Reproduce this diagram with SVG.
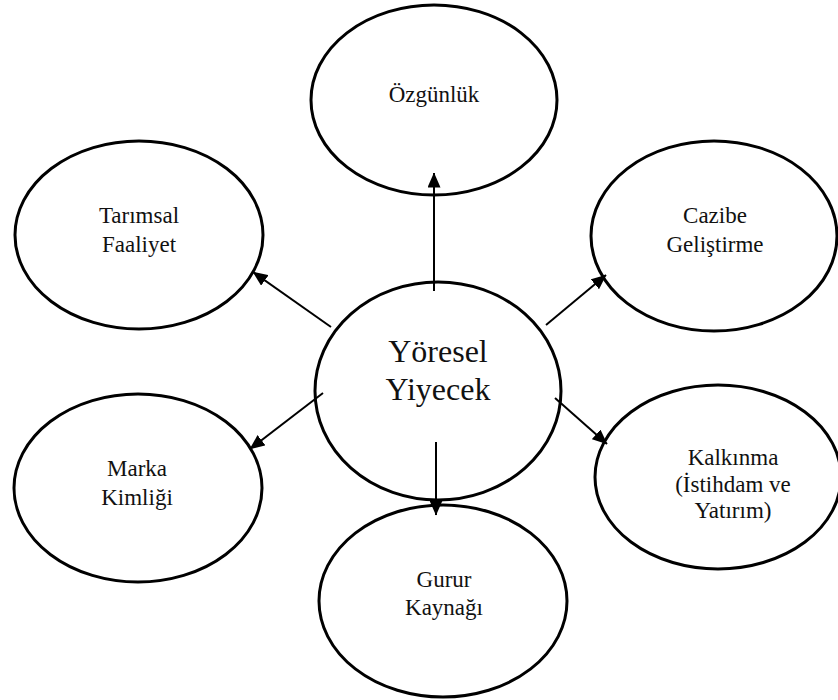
<svg xmlns="http://www.w3.org/2000/svg" width="838" height="700" viewBox="0 0 838 700">
  <style>
    .node ellipse { fill: #ffffff; stroke: #000000; stroke-width: 3; }
    .node text { font-family: 'Liberation Serif', 'Times New Roman', 'DejaVu Serif', serif; font-size: 23px; fill: #111111; text-anchor: middle; }
    .node.hub text { font-size: 32px; }
    .links line { stroke: #000000; stroke-width: 2; marker-end: url(#head); }
  </style>
  <defs>
    <marker id="head" viewBox="0 0 15 13" refX="14.5" refY="6.5" markerWidth="7.5" markerHeight="6.5" orient="auto" markerUnits="strokeWidth">
      <path d="M0,0 L15,6.5 L0,13 Z" fill="#000000"/>
    </marker>
  </defs>

  <g id="ozgunluk" class="node">
    <ellipse cx="434" cy="100" rx="123" ry="95"/>
    <text x="434" y="102">Özgünlük</text>
  </g>

  <g id="tarimsal-faaliyet" class="node">
    <ellipse cx="139" cy="235" rx="124" ry="94"/>
    <text x="139" y="223">Tarımsal</text>
    <text x="139" y="252">Faaliyet</text>
  </g>

  <g id="cazibe-gelistirme" class="node">
    <ellipse cx="714" cy="236" rx="123" ry="95"/>
    <text x="715" y="223">Cazibe</text>
    <text x="715" y="252">Geliştirme</text>
  </g>

  <g id="marka-kimligi" class="node">
    <ellipse cx="138" cy="488" rx="124" ry="94"/>
    <text x="137" y="476">Marka</text>
    <text x="137" y="505">Kimliği</text>
  </g>

  <g id="kalkinma" class="node">
    <ellipse cx="718" cy="477" rx="123" ry="92"/>
    <text x="733" y="465">Kalkınma</text>
    <text x="733" y="492">(İstihdam ve</text>
    <text x="733" y="518">Yatırım)</text>
  </g>

  <g id="gurur-kaynagi" class="node">
    <ellipse cx="443" cy="601" rx="124" ry="96"/>
    <text x="444" y="587">Gurur</text>
    <text x="444" y="615">Kaynağı</text>
  </g>

  <g id="yoresel-yiyecek" class="node hub">
    <ellipse cx="438" cy="391" rx="123" ry="109"/>
    <text x="438" y="362">Yöresel</text>
    <text x="438" y="400">Yiyecek</text>
  </g>

  <!-- connectors from the hub outwards -->
  <g id="links" class="links">
    <line x1="434" y1="291" x2="434" y2="173"/>
    <line x1="331" y1="327" x2="253" y2="272"/>
    <line x1="546" y1="325" x2="606" y2="275"/>
    <line x1="323" y1="393" x2="250" y2="449"/>
    <line x1="555" y1="398" x2="607" y2="444"/>
    <line x1="436" y1="442" x2="436" y2="515"/>
  </g>
</svg>
